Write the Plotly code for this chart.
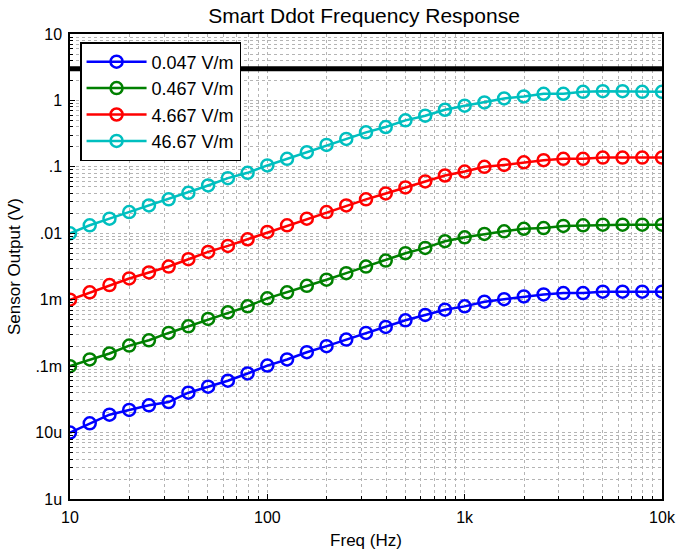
import plotly.graph_objects as go

freq_hz = [10, 12.59, 15.85, 19.95, 25.12, 31.62, 39.81, 50.12, 63.10, 79.43,
           100, 125.9, 158.5, 199.5, 251.2, 316.2, 398.1, 501.2, 631.0, 794.3,
           1000, 1259, 1585, 1995, 2512, 3162, 3981, 5012, 6310, 7943, 10000]

out_0047 = [1.00e-5, 1.38e-5, 1.86e-5, 2.19e-5, 2.57e-5, 2.88e-5, 3.98e-5, 4.90e-5, 6.03e-5, 7.76e-5,
            1.02e-4, 1.26e-4, 1.62e-4, 2.00e-4, 2.51e-4, 3.16e-4, 3.89e-4, 4.90e-4, 5.89e-4, 7.08e-4,
            7.94e-4, 9.33e-4, 1.02e-3, 1.12e-3, 1.20e-3, 1.26e-3, 1.26e-3, 1.32e-3, 1.32e-3, 1.32e-3, 1.32e-3]

out_0467 = [1.00e-4, 1.26e-4, 1.55e-4, 2.04e-4, 2.45e-4, 3.16e-4, 3.98e-4, 5.13e-4, 6.46e-4, 7.94e-4,
            1.05e-3, 1.29e-3, 1.62e-3, 2.00e-3, 2.51e-3, 3.16e-3, 3.89e-3, 5.01e-3, 6.03e-3, 7.59e-3,
            8.71e-3, 9.77e-3, 1.07e-2, 1.17e-2, 1.20e-2, 1.29e-2, 1.32e-2, 1.35e-2, 1.35e-2, 1.35e-2, 1.35e-2]

out_4667 = [1.00e-3, 1.29e-3, 1.66e-3, 2.09e-3, 2.57e-3, 3.16e-3, 4.07e-3, 5.25e-3, 6.46e-3, 8.13e-3,
            1.05e-2, 1.32e-2, 1.66e-2, 2.09e-2, 2.63e-2, 3.24e-2, 3.98e-2, 4.90e-2, 6.03e-2, 7.41e-2,
            8.51e-2, 0.100, 0.107, 0.117, 0.126, 0.132, 0.132, 0.138, 0.138, 0.138, 0.138]

out_4667_ = [0.0100, 0.0132, 0.0166, 0.0209, 0.0263, 0.0324, 0.0407, 0.0525, 0.0676, 0.0813,
             0.105, 0.132, 0.166, 0.214, 0.263, 0.331, 0.398, 0.501, 0.589, 0.724,
             0.832, 0.933, 1.07, 1.15, 1.26, 1.26, 1.35, 1.38, 1.38, 1.35, 1.35]

series_names = ["0.047 V/m", "0.467 V/m", "4.667 V/m", "46.67 V/m"]
series_values = [out_0047, out_0467, out_4667, out_4667_]
series_colors = ["#0000FF", "#008000", "#FF0000", "#00BFBF"]

limit_freq = [10, 10000]
limit_level = [3, 3]

x_tickvals = [10, 100, 1000, 10000]
x_ticktext = ["10", "100", "1k", "10k"]
y_tickvals = [1e-6, 1e-5, 1e-4, 1e-3, 1e-2, 1e-1, 1, 10]
y_ticktext = ["1u", "10u", ".1m", "1m", ".01", ".1", "1", "10"]

FONT = "Liberation Sans, Arial, sans-serif"

fig = go.Figure()

fig.add_trace(go.Scatter(x=limit_freq, y=limit_level, mode="lines",
                         line=dict(color="black", width=5), showlegend=False,
                         hoverinfo="skip"))

for name, vals, col in zip(series_names, series_values, series_colors):
    fig.add_trace(go.Scatter(
        x=freq_hz, y=vals, name=name, mode="lines+markers",
        line=dict(color=col, width=2.5),
        marker=dict(symbol="circle-open", size=12, color=col, line=dict(width=2.5, color=col)),
    ))

grid_col = "#b4b4b4"
axis_common = dict(
    type="log", showline=True, linecolor="black", linewidth=1.5, mirror=True,
    ticks="inside", ticklen=5, tickcolor="black", tickwidth=1,
    showgrid=True, gridcolor=grid_col, griddash="dot", gridwidth=1,
    zeroline=False, tickfont=dict(family=FONT, size=16, color="black"),
    automargin=False, ticklabeloverflow="allow",
    minor=dict(ticks="inside", ticklen=3, tickcolor="black", dtick="D1",
               showgrid=True, gridcolor=grid_col, griddash="dot", gridwidth=1),
)

fig.update_xaxes(**axis_common, tickvals=x_tickvals, ticktext=x_ticktext,
                 range=[1, 4], ticklabelstandoff=3,
                 title=dict(text="Freq (Hz)", font=dict(family=FONT, size=17, color="black"), standoff=9))
fig.update_yaxes(**axis_common, tickvals=y_tickvals, ticktext=y_ticktext,
                 range=[-6, 1], ticklabelstandoff=3,
                 title=dict(text="Sensor Output (V)", font=dict(family=FONT, size=17, color="black"), standoff=10))

W, H = 676, 553
fig.update_layout(
    width=W, height=H,
    margin=dict(l=70, r=14, t=34, b=54),
    paper_bgcolor="white", plot_bgcolor="white",
    title=dict(text="Smart Ddot Frequency Response", x=364 / W, xanchor="center",
               y=1 - 16 / H, yanchor="middle", automargin=False,
               font=dict(family=FONT, size=21, color="black")),
    legend=dict(x=0.017, y=1 - 8 / 465, xanchor="left", yanchor="top",
                bgcolor="white", bordercolor="black", borderwidth=1.5,
                font=dict(family=FONT, size=18, color="black"),
                tracegroupgap=0, itemwidth=60),
    font=dict(family=FONT),
    showlegend=True,
)

fig.write_html("out.html", config={"displayModeBar": False},
               post_script="document.body.style.margin='0';")
